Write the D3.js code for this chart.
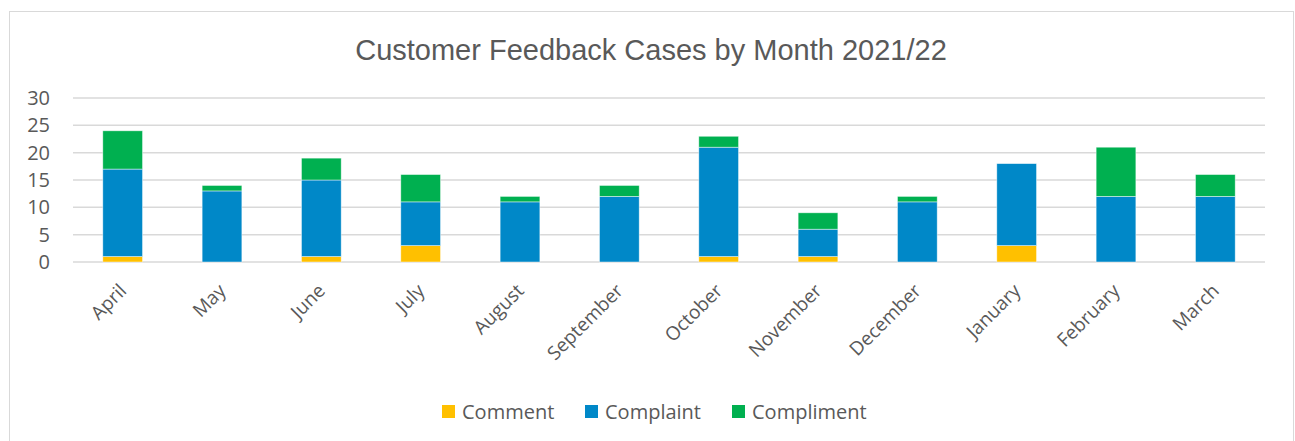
<!doctype html>
<html>
<head>
    <style>
        body { margin: 0; background: #fff; }
        text { fill: #595959; }
        .axis text { font-family: "Open Sans", "Noto Sans", sans-serif; }
        .grid line { stroke: #d9d9d9; stroke-width: 1.5; }
    </style>
    <script src="https://d3js.org/d3.v7.min.js"></script>
</head>
<body>
<svg width="1295" height="441"></svg>
<script>

    var months = ["April", "May", "June", "July", "August", "September", "October",
                  "November", "December", "January", "February", "March"];
    var series = ["Comment", "Complaint", "Compliment"];
    var comment    = [1, 0, 1, 3, 0, 0, 1, 1, 0, 3, 0, 0];
    var complaint  = [16, 13, 14, 8, 11, 12, 20, 5, 11, 15, 12, 12];
    var compliment = [7, 1, 4, 5, 1, 2, 2, 3, 1, 0, 9, 4];
    var yTicks = [0, 5, 10, 15, 20, 25, 30];
    var colors = ["#ffc000", "#0088c8", "#00b050"];

    var svg = d3.select("svg");

    // chart frame
    svg.append("rect")
        .attr("x", 9.5).attr("y", 11.5)
        .attr("width", 1284).attr("height", 440)
        .attr("fill", "#fff")
        .attr("stroke", "#d9d9d9");

    svg.append("text")
        .attr("x", 651)
        .attr("y", 60)
        .attr("text-anchor", "middle")
        .attr("font-family", "'Liberation Sans', Arial, sans-serif")
        .attr("font-size", "29px")
        .text("Customer Feedback Cases by Month 2021/22");

    var rows = months.map(function(m, i) {
        return { month: m, Comment: comment[i], Complaint: complaint[i], Compliment: compliment[i] };
    });

    var x = d3.scaleBand().domain(months).range([73, 1265]).paddingInner(0.6).paddingOuter(0.3);
    var y = d3.scaleLinear().domain([0, 30]).range([262, 98]);

    // gridlines
    svg.append("g")
        .attr("class", "grid")
        .selectAll("line")
        .data(yTicks)
        .enter().append("line")
        .attr("x1", 73).attr("x2", 1265)
        .attr("y1", function(d) { return y(d); })
        .attr("y2", function(d) { return y(d); });

    // y axis labels
    var yAxis = svg.append("g")
        .attr("class", "axis")
        .attr("transform", "translate(58,0)")
        .call(d3.axisLeft(y).tickValues(yTicks).tickSize(0).tickPadding(8));
    yAxis.select(".domain").remove();
    yAxis.selectAll("text").attr("font-size", "20px");

    var stack = d3.stack().keys(series)(rows);

    svg.append("g")
        .selectAll("g")
        .data(stack)
        .enter().append("g")
        .attr("fill", function(d, i) { return colors[i]; })
        .selectAll("rect")
        .data(function(d) { return d; })
        .enter().append("rect")
        .filter(function(d) { return d[1] > d[0]; })
        .attr("x", function(d) { return x(d.data.month); })
        .attr("y", function(d) { return y(d[1]); })
        .attr("width", x.bandwidth())
        .attr("height", function(d) { return y(d[0]) - y(d[1]); })
        .attr("stroke", "#ffffff")
        .attr("stroke-opacity", 0.6)
        .attr("stroke-width", 0.75);

    // x axis labels, rotated
    var xAxis = svg.append("g")
        .attr("class", "axis")
        .attr("transform", "translate(0,262)")
        .call(d3.axisBottom(x).tickSize(0).tickPadding(0));
    xAxis.select(".domain").remove();
    xAxis.selectAll("text")
        .attr("font-size", "19px")
        .attr("text-anchor", "end")
        .attr("dy", null)
        .attr("y", 0)
        .attr("transform", "translate(5,30) rotate(-45)");

    // legend
    var legendX = [442, 585, 732];
    var legend = svg.append("g")
        .selectAll("g")
        .data(series)
        .enter().append("g")
        .attr("transform", function(d, i) { return "translate(" + legendX[i] + ",405)"; });
    legend.append("rect")
        .attr("width", 13).attr("height", 13)
        .attr("fill", function(d, i) { return colors[i]; });
    legend.append("text")
        .attr("x", 20)
        .attr("y", 14)
        .attr("font-family", "'Open Sans', 'Noto Sans', sans-serif")
        .attr("font-size", "20px")
        .text(function(d) { return d; });

</script>
</body>
</html>
